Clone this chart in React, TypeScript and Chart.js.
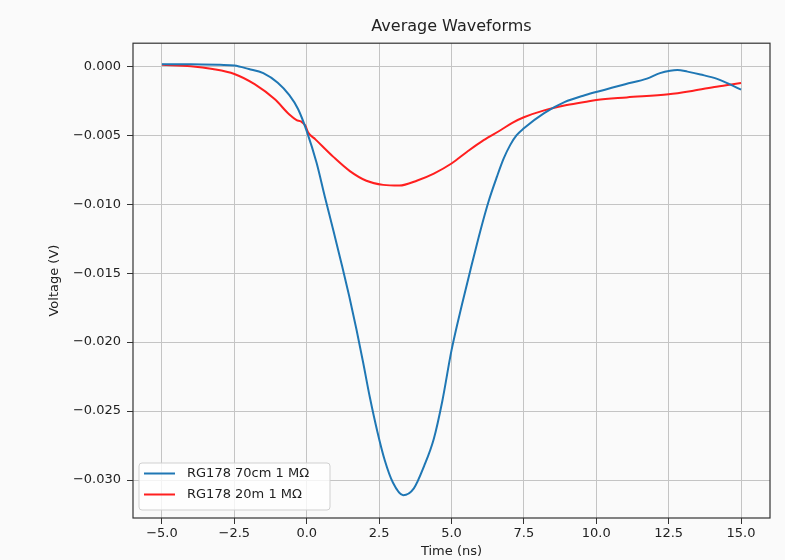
import React, { useEffect, useRef } from 'react';
import { Chart, registerables } from 'chart.js';

Chart.register(...registerables);

// RG178 70cm 1 MΩ (blue)
const t70 = [-5.0, -4.0, -3.0, -2.5, -2.0, -1.5, -1.0, -0.6, -0.3, 0.0, 0.34, 0.63, 0.92, 1.2, 1.47, 1.72, 1.95, 2.18, 2.43, 2.7, 2.98, 3.33, 3.7, 4.05, 4.39, 4.68, 5.0, 5.37, 5.65, 6.0, 6.28, 6.57, 6.8, 7.03, 7.25, 7.5, 8.2, 8.9, 9.6, 10.3, 11.0, 11.75, 12.2, 12.55, 12.8, 13.15, 13.6, 14.15, 14.6, 15.0];
const v70 = [0.00015, 0.00015, 0.0001, 0.00005, -0.0002, -0.0005, -0.0012, -0.0021, -0.0031, -0.0047, -0.007, -0.0095, -0.0119, -0.0143, -0.0167, -0.0191, -0.0215, -0.024, -0.0264, -0.0286, -0.0302, -0.0311, -0.0306, -0.029, -0.027, -0.0243, -0.0206, -0.0172, -0.0148, -0.0119, -0.0098, -0.008, -0.0067, -0.0057, -0.005, -0.0045, -0.0034, -0.0026, -0.0021, -0.0017, -0.0013, -0.0009, -0.0005, -0.00032, -0.00027, -0.00039, -0.0006, -0.0009, -0.0013, -0.0017];

// RG178 20m 1 MΩ (red)
const t20 = [-5.0, -4.0, -3.25, -2.5, -1.8, -1.1, -0.6, -0.35, -0.2, -0.05, 0.05, 0.3, 0.92, 1.49, 2.06, 2.64, 3.2, 3.82, 4.39, 5.0, 5.54, 6.11, 6.69, 7.1, 7.5, 8.2, 8.9, 9.6, 10.0, 11.05, 12.5, 13.35, 14.15, 15.0];
const v20 = [0.0001, 0.0, -0.0002, -0.00056, -0.0013, -0.0024, -0.0035, -0.0039, -0.004, -0.0043, -0.0048, -0.0053, -0.00657, -0.0076, -0.0083, -0.0086, -0.00865, -0.00828, -0.00778, -0.00705, -0.0062, -0.00536, -0.00464, -0.0041, -0.0037, -0.0032, -0.00285, -0.0026, -0.00245, -0.00226, -0.00203, -0.00177, -0.00148, -0.00121];

const xTicks = [-5, -2.5, 0, 2.5, 5, 7.5, 10, 12.5, 15];
const yTicks = [0, -0.005, -0.01, -0.015, -0.02, -0.025, -0.03];
const seriesLabels = ['RG178 70cm 1 MΩ', 'RG178 20m 1 MΩ'];
const seriesColors = ['#1f77b4', '#ff1f1f'];

const FONT = "'DejaVu Sans', 'Liberation Sans', sans-serif";

const bgPlugin = {
  id: 'bgFill',
  beforeDraw(chart: any) {
    const { ctx, width, height } = chart;
    ctx.save();
    ctx.fillStyle = '#fafafa';
    ctx.fillRect(0, 0, width, height);
    ctx.restore();
  },
};

const framePlugin = {
  id: 'frameLegend',
  afterDatasetsDraw(chart: any) {
    const { ctx, chartArea } = chart;
    ctx.save();
    ctx.strokeStyle = '#333';
    ctx.lineWidth = 1.2;
    ctx.strokeRect(chartArea.left, chartArea.top, chartArea.right - chartArea.left, chartArea.bottom - chartArea.top);

    // legend box
    const x0 = chartArea.left + 6;
    const h = 47;
    const y0 = chartArea.bottom - 8 - h;
    const w = 191;
    ctx.beginPath();
    if ((ctx as any).roundRect) (ctx as any).roundRect(x0, y0, w, h, 3);
    else ctx.rect(x0, y0, w, h);
    ctx.fillStyle = 'rgba(255,255,255,0.8)';
    ctx.fill();
    ctx.strokeStyle = '#d0d0d0';
    ctx.lineWidth = 1;
    ctx.stroke();

    const ds = chart.data.datasets;
    ctx.font = `13px ${FONT}`;
    ctx.textBaseline = 'middle';
    ctx.textAlign = 'left';
    for (let i = 0; i < ds.length; i++) {
      const y = y0 + 10.5 + i * 21;
      ctx.strokeStyle = ds[i].borderColor;
      ctx.lineWidth = 2;
      ctx.beginPath();
      ctx.moveTo(x0 + 5, y);
      ctx.lineTo(x0 + 36, y);
      ctx.stroke();
      ctx.fillStyle = '#222';
      ctx.fillText(ds[i].label, x0 + 48, y + 0.5);
    }
    ctx.restore();
  },
};

const fmt = (v: number, d: number) => Number(v).toFixed(d).replace('-', '\u2212');

export default function App() {
  const ref = useRef<HTMLCanvasElement | null>(null);

  useEffect(() => {
    if (!ref.current) return;
    const chart = new Chart(ref.current, {
      type: 'line',
      data: {
        datasets: [
          {
            label: seriesLabels[0],
            data: t70.map((t, i) => ({ x: t, y: v70[i] })),
            borderColor: seriesColors[0],
            borderWidth: 2,
            pointRadius: 0,
            cubicInterpolationMode: 'monotone',
            fill: false,
          },
          {
            label: seriesLabels[1],
            data: t20.map((t, i) => ({ x: t, y: v20[i] })),
            borderColor: seriesColors[1],
            borderWidth: 2,
            pointRadius: 0,
            cubicInterpolationMode: 'monotone',
            fill: false,
          },
        ],
      },
      options: {
        responsive: false,
        animation: false,
        layout: { padding: { left: 0, right: 15, top: 0, bottom: 0 } },
        plugins: {
          legend: { display: false },
          tooltip: { enabled: false },
          title: {
            display: true,
            text: 'Average Waveforms',
            fullSize: false,
            color: '#222',
            font: { family: FONT, size: 16, weight: 'normal' },
            padding: { top: 17, bottom: 7 },
          },
        },
        scales: {
          x: {
            type: 'linear',
            min: -6,
            max: 16,
            afterBuildTicks: (scale: any) => {
              scale.ticks = xTicks.map((v) => ({ value: v }));
            },
            afterFit: (scale: any) => {
              scale.height = 42;
            },
            grid: { color: '#c4c4c4', lineWidth: 1, tickColor: '#333', tickLength: 6 },
            border: { display: false },
            ticks: {
              color: '#222',
              padding: 2,
              maxRotation: 0,
              font: { family: FONT, size: 13 },
              callback: (v: any) => fmt(v, 1),
            },
            title: {
              display: true,
              text: 'Time (ns)',
              color: '#222',
              font: { family: FONT, size: 13 },
              padding: { top: 0, bottom: 1 },
            },
          },
          y: {
            type: 'linear',
            min: -0.03275,
            max: 0.00167,
            afterBuildTicks: (scale: any) => {
              scale.ticks = yTicks.map((v) => ({ value: v }));
            },
            afterFit: (scale: any) => {
              scale.width = 133;
            },
            grid: { color: '#c4c4c4', lineWidth: 1, tickColor: '#333', tickLength: 6 },
            border: { display: false },
            ticks: {
              color: '#222',
              padding: 6,
              font: { family: FONT, size: 13 },
              callback: (v: any) => fmt(v, 3),
            },
            title: {
              display: true,
              text: 'Voltage (V)',
              color: '#222',
              font: { family: FONT, size: 13 },
              padding: { top: 47, bottom: 0 },
            },
          },
        },
      },
      plugins: [bgPlugin, framePlugin],
    } as any);
    return () => chart.destroy();
  }, []);

  return (
    <div style={{ position: 'fixed', left: 0, top: 0, width: 785, height: 560, background: '#fafafa' }}>
      <canvas ref={ref} width={785} height={560} style={{ width: 785, height: 560, display: 'block' }} />
    </div>
  );
}
